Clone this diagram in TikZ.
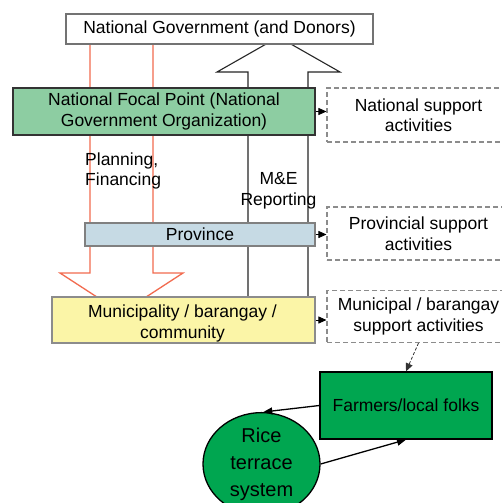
\documentclass[tikz,border=0pt]{standalone}
\usepackage{fontspec}
\setmainfont{Liberation Sans}
\usetikzlibrary{shapes.geometric,arrows.meta}
\definecolor{focalgreen}{HTML}{8DCDA2}
\definecolor{provblue}{HTML}{C6DAE4}
\definecolor{muniyellow}{HTML}{FBF5A7}
\definecolor{farmgreen}{HTML}{00A650}
\definecolor{redarrow}{HTML}{F26B4F}
\tikzset{
  lbl/.style={font=\fontsize{17.5}{20.5}\selectfont, inner sep=0pt, align=center},
  levelbox/.style={lbl, draw, line width=1.1pt, minimum width=#1, inner sep=0pt},
  supbox/.style={lbl, draw=gray!90, dashed, dash pattern=on 5pt off 3pt, line width=1.1pt, minimum width=183pt},
  tinyarrow/.style={-{Triangle[length=8pt,width=7pt]}, line width=0.8pt},
}
\begin{document}
\begin{tikzpicture}[x=1pt,y=-1pt]
\useasboundingbox (0,0) rectangle (501,503);
\fill[white] (0,0) rectangle (501,503);
% block arrows
\draw[redarrow, line width=1.3pt, fill=white, line join=miter]
  (90,44) -- (90,273) -- (60,273) -- (121.5,313) -- (183,273) -- (153,273) -- (153,44);
\draw[black!85, line width=1.1pt, fill=white, line join=miter]
  (248,300) -- (248,72) -- (217,72) -- (278.5,37) -- (340,72) -- (308,72) -- (308,300);
% level boxes
\node[levelbox=307pt, draw=gray!110, fill=white, minimum height=30pt] (gov) at (219.5,29) {National Government (and Donors)};
\node[levelbox=302pt, draw=black!80, fill=focalgreen, minimum height=47pt] (focal) at (164,111.5) {National Focal Point (National\\Government Organization)};
\node[levelbox=230pt, draw=gray!100, fill=provblue, minimum height=23pt] (prov) at (200,234.5) {Province};
\node[levelbox=263pt, draw=gray!90, fill=muniyellow, minimum height=46pt, text depth=0pt] (muni) at (183.5,320) {};
\node[lbl] (munitxt) at (182.5,323.5) {Municipality / barangay /\\community};
% labels
\node[lbl, align=left, anchor=west] (plan) at (85,171) {Planning,\\Financing};
\node[lbl] (me) at (278.5,191) {M\&E\\Reporting};
% support boxes
\node[supbox, minimum height=54pt] (natsup) at (418.5,115) {National support\\activities};
\node[supbox, minimum height=53pt] (provsup) at (418.5,233.5) {Provincial support\\activities};
\node[supbox, minimum height=52pt] (munisup) at (418.5,316.5) {Municipal / barangay\\support activities};
\draw[tinyarrow] (focal.east) -- (focal.east -| natsup.west);
\draw[tinyarrow] (prov.east) -- (prov.east -| provsup.west);
\draw[tinyarrow] (muni.east) -- (muni.east -| munisup.west);
% local level
\node[lbl, draw=black, line width=1.3pt, fill=farmgreen, minimum width=172pt, minimum height=67pt] (farm) at (406,405.5) {Farmers/local folks};
\node[ellipse, draw=black, line width=1.3pt, fill=farmgreen, minimum width=117pt, minimum height=96pt, inner sep=0pt,
      font=\fontsize{20}{27}\selectfont, align=center] (rice) at (261.5,464) {Rice\\terrace\\system};
\draw[black!80, line width=0.8pt, dashed, dash pattern=on 3pt off 2pt, -{Triangle[length=8pt,width=7pt]}] (munisup.south) -- (farm.north);
\draw[line width=1.3pt, -{Triangle[length=9pt,width=7pt]}] (farm.west) -- (rice.88);
\draw[line width=1.3pt, -{Triangle[length=9pt,width=7pt]}] (rice.east) -- (farm.south);
\end{tikzpicture}
\end{document}
